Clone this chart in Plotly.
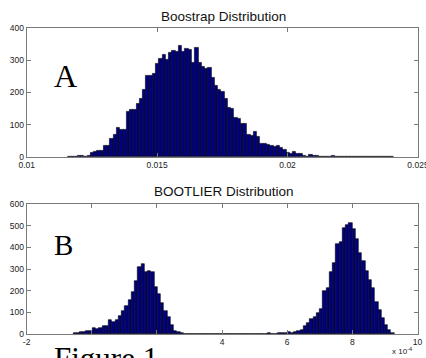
import plotly.graph_objects as go

W, H = 426, 358

# ---------------- Data ----------------
# Panel A: bootstrap distribution histogram
a_bin_start = 0.011575
a_bin_width = 0.000125
a_counts = [1, 1, 1, 4, 4, 2, 3,
            14, 16, 19, 20, 34, 36, 58, 68, 92, 85, 85, 140, 147, 147, 164, 180, 207, 253, 250, 258, 288,
            303, 315, 302, 324, 328, 326, 344, 326, 334, 331, 293, 339, 293, 279, 274, 276, 246, 221, 207, 202,
            181, 154, 150, 123, 118, 102, 102, 68, 65, 78, 63,
            40, 42, 39, 34, 32, 34, 29, 22, 13, 9, 15, 11, 10, 4, 2, 8, 5, 5, 2, 1,
            1, 0, 3, 1, 1, 1, 0, 1, 0, 1, 0, 1, 0, 0, 0, 0, 0, 1, 0, 0, 1]
a_xticks = [0.01, 0.015, 0.02, 0.025]
a_xticktext = ["0.01", "0.015", "0.02", "0.025"]
a_yticks = [0, 100, 200, 300, 400]

# Panel B: BOOTLIER distribution histogram (x 10^-4)
b_bin_start = -0.572
b_bin_width = 0.0996
b_counts = ([3, 5, 8, 11, 13, 14, 28, 23, 26, 37, 37, 65, 55, 65, 83, 108, 129, 157, 194, 245,
             308, 322, 285, 291, 288, 215, 185, 142, 108, 77, 42, 15, 11, 3, 0, 1, 1]
            + [0] * 16 + [1] + [0] * 6
            + [3, 1, 2, 3, 4, 5, 7, 6, 10, 15, 20, 37, 52, 68, 80, 95, 114]
            + [200, 211, 288, 326, 415, 425, 488, 502, 514, 484, 440, 376, 335, 293, 250, 211,
               150, 110, 75, 42, 18, 5])
b_xticks = [-2, 4, 6, 8, 10]
b_xticktext = ["-2", "4", "6", "8", "10"]
b_xticks_unlabelled = [0, 2]
b_yticks = [0, 100, 200, 300, 400, 500, 600]

title_a = "Boostrap Distribution"
title_b = "BOOTLIER Distribution"

# ---------------- Helpers ----------------
def px(x):
    return x / W

def py(y):
    return 1 - y / H

a_centers = [a_bin_start + (i + 0.5) * a_bin_width for i in range(len(a_counts))]
b_centers = [b_bin_start + (i + 0.5) * b_bin_width for i in range(len(b_counts))]

BAR = "#000080"
AX = "#7a7a7a"

fig = go.Figure()
fig.add_trace(go.Bar(x=a_centers, y=a_counts, width=a_bin_width,
                     marker=dict(color=BAR, line=dict(color="#000000", width=0.6)),
                     xaxis="x", yaxis="y", showlegend=False, hoverinfo="skip"))
fig.add_trace(go.Bar(x=b_centers, y=b_counts, width=b_bin_width,
                     marker=dict(color=BAR, line=dict(color="#000000", width=0.6)),
                     xaxis="x2", yaxis="y2", showlegend=False, hoverinfo="skip"))

tickfont = dict(family="Liberation Sans, Arial, sans-serif", size=8.5, color="#222222")
common = dict(showline=True, linecolor=AX, linewidth=1, mirror="ticks", ticks="inside",
              ticklen=4, tickcolor=AX, tickwidth=1, showgrid=False, zeroline=False,
              tickfont=tickfont, fixedrange=True, automargin=False,
              ticklabeloverflow="allow")

b_all_ticks = sorted(b_xticks + b_xticks_unlabelled)
b_all_text = [b_xticktext[b_xticks.index(v)] if v in b_xticks else "" for v in b_all_ticks]

fig.update_layout(
    width=W, height=H,
    margin=dict(l=0, r=0, t=0, b=0, pad=0, autoexpand=False),
    paper_bgcolor="white", plot_bgcolor="white",
    bargap=0,
    showlegend=False,
    xaxis=dict(domain=[px(26.7), px(418)], range=[0.01, 0.025], anchor="y",
               tickvals=a_xticks, ticktext=a_xticktext, **common),
    yaxis=dict(domain=[py(157), py(27.7)], range=[0, 400], anchor="x",
               tickvals=a_yticks, **common),
    xaxis2=dict(domain=[px(26.6), px(417.5)], range=[-2, 10], anchor="y2",
                tickvals=b_all_ticks, ticktext=b_all_text, **common),
    yaxis2=dict(domain=[py(334), py(204)], range=[0, 600], anchor="x2",
                tickvals=b_yticks, **common),
)

sans = "Liberation Sans, Arial, sans-serif"
serif = "Liberation Serif, Times New Roman, serif"
ann = [
    dict(text=title_a, x=px(223), y=py(17), xanchor="center", yanchor="middle",
         font=dict(family=sans, size=13.5, color="#111111")),
    dict(text=title_b, x=px(224), y=py(191.5), xanchor="center", yanchor="middle",
         font=dict(family=sans, size=13.5, color="#111111")),
    dict(text="A", x=px(52), y=py(76), xanchor="left", yanchor="middle",
         font=dict(family=serif, size=32, color="#000000")),
    dict(text="B", x=px(52), y=py(245), xanchor="left", yanchor="middle",
         font=dict(family=serif, size=29, color="#000000")),
    dict(text="x 10<sup>-4</sup>", x=px(414), y=py(351), xanchor="right", yanchor="middle",
         font=dict(family=sans, size=8, color="#222222")),
    dict(text="Figure 1", x=px(52), y=py(339), xanchor="left", yanchor="top",
         font=dict(family=serif, size=31, color="#000000")),
]
for a in ann:
    a.update(xref="paper", yref="paper", showarrow=False)
fig.update_layout(annotations=ann)

fig.write_html("out.html", config={"displayModeBar": False},
               post_script="document.body.style.margin='0';document.body.style.overflow='hidden';")
